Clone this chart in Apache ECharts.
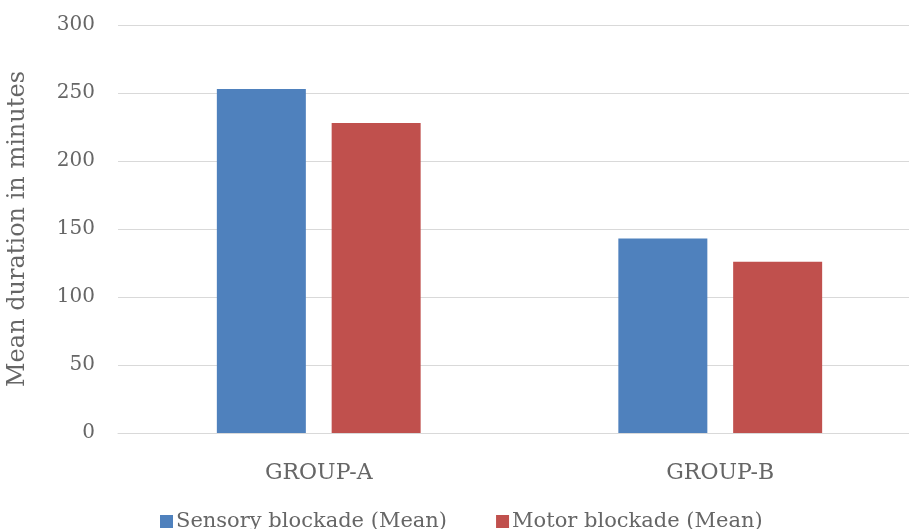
<!DOCTYPE html>
<html>
<head>
<meta charset="utf-8">
<script src="https://cdn.jsdelivr.net/npm/echarts@6/dist/echarts.min.js"></script>
<style>html,body{margin:0;padding:0;background:#fff;}#c{width:909px;height:529px;}</style>
</head>
<body>
<div id="c"></div>
<script>
const categories = ['GROUP-A', 'GROUP-B'];
const sensoryMean = [253, 143];
const motorMean = [228, 126];
const seriesNames = ['Sensory blockade (Mean)', 'Motor blockade (Mean)'];
const yTitle = 'Mean duration in minutes';

const FONT = 'DejaVu Serif';
const TXT = '#666666';
const chart = echarts.init(document.getElementById('c'), null, {renderer: 'canvas'});
chart.setOption({
  animation: false,
  backgroundColor: '#ffffff',
  textStyle: {fontFamily: FONT},
  grid: {left: 118, top: 25, width: 803, height: 408, containLabel: false, outerBoundsMode: 'none'},
  legend: {
    top: 506, left: 155,
    icon: 'rect', itemWidth: 13, itemHeight: 13, itemGap: 49,
    textStyle: {fontFamily: FONT, fontSize: 21, color: TXT, padding: [0, 0, 0, -2]},
    data: seriesNames
  },
  xAxis: {
    type: 'category', data: categories,
    axisLine: {show: true, lineStyle: {color: '#d9d9d9', width: 1}},
    axisTick: {show: false},
    axisLabel: {fontFamily: FONT, fontSize: 22, color: TXT, margin: 29}
  },
  yAxis: {
    type: 'value', min: 0, max: 300, interval: 50,
    name: yTitle, nameLocation: 'middle', nameGap: 88, nameRotate: 90,
    nameTextStyle: {fontFamily: FONT, fontSize: 24, color: TXT},
    axisLine: {show: false}, axisTick: {show: false},
    splitLine: {lineStyle: {color: '#d9d9d9', width: 1}},
    axisLabel: {fontFamily: FONT, fontSize: 20, color: TXT, margin: 23}
  },
  series: [
    {name: seriesNames[0], type: 'bar', data: sensoryMean, barWidth: 89, barGap: '29%',
     itemStyle: {color: '#4f81bd'}},
    {name: seriesNames[1], type: 'bar', data: motorMean, barWidth: 89,
     itemStyle: {color: '#c0504d'}}
  ]
});
</script>
</body>
</html>
